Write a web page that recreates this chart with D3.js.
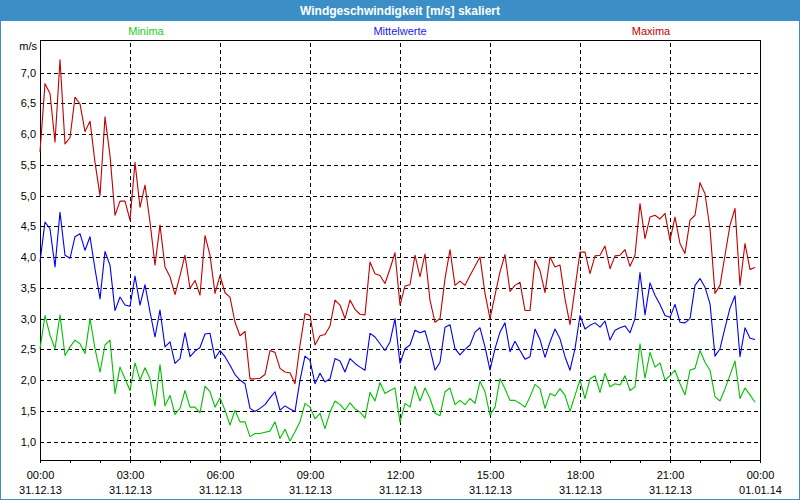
<!DOCTYPE html>
<html>
<head>
<meta charset="utf-8">
<script src="https://cdn.jsdelivr.net/npm/d3@7"></script>
<style>
  html, body { margin: 0; padding: 0; background: #ffffff; }
  svg { display: block; }
  text { font-family: Tahoma, "Liberation Sans", Arial, sans-serif; }
</style>
</head>
<body>
<svg id="chart" width="800" height="500"></svg>
<script>
// ---------------- data ----------------
const chartTitle = "Windgeschwindigkeit [m/s] skaliert";
const unitLabel = "m/s";
const seriesNames = ["Minima", "Mittelwerte", "Maxima"];
const startTime = new Date(2013, 11, 31, 0, 0);
const endTime = new Date(2014, 0, 1, 0, 0);
const stepMinutes = 10;

const minima = [
  2.51,3.05,2.73,2.51,3.06,2.40,2.54,2.65,2.59,2.43,3.00,2.51,2.13,2.57,2.65,1.78,2.21,2.02,1.83,2.28,
  2.00,2.20,2.02,1.58,2.25,1.58,1.75,1.44,1.54,1.83,1.56,1.56,1.47,1.90,1.81,1.56,1.71,1.51,1.27,1.51,
  1.32,1.32,1.08,1.13,1.13,1.15,1.17,1.32,1.05,1.20,1.01,1.16,1.32,1.62,1.56,1.37,1.46,1.21,1.48,1.66,
  1.60,1.51,1.63,1.53,1.48,1.38,1.80,1.66,1.96,1.78,1.83,1.87,1.31,1.62,1.56,1.90,1.66,1.87,1.70,1.46,
  1.42,1.81,1.87,1.60,1.67,1.60,1.70,1.62,1.98,1.81,1.43,1.56,2.02,1.86,1.67,1.67,1.62,1.56,1.73,1.93,
  1.86,1.54,1.78,1.74,1.86,1.75,1.49,1.75,2.00,1.70,2.02,2.07,1.80,2.11,1.89,1.94,1.92,2.07,1.83,1.89,
  2.59,2.03,2.45,2.21,2.28,2.00,2.07,2.16,1.94,1.76,2.16,2.19,2.48,2.29,2.16,1.73,1.66,1.86,2.08,2.31,
  1.70,1.87,1.76,1.64
];
const mittelwerte = [
  3.92,4.57,4.46,3.84,4.73,4.03,3.98,4.33,4.38,4.11,4.33,3.81,3.32,4.09,3.87,3.13,3.35,3.22,3.20,3.69,
  3.22,3.55,3.11,2.70,3.14,2.54,2.62,2.27,2.35,2.77,2.38,2.47,2.53,2.75,2.76,2.35,2.48,2.38,2.24,2.09,
  2.00,1.94,1.54,1.49,1.54,1.60,1.71,1.81,1.51,1.58,1.53,1.49,2.00,2.39,2.32,1.94,2.11,1.97,2.02,2.35,
  2.31,2.13,2.35,2.27,2.21,2.16,2.76,2.70,2.59,2.48,2.62,3.00,2.27,2.51,2.57,2.81,2.77,2.80,2.51,2.16,
  2.29,2.86,2.90,2.51,2.41,2.50,2.57,2.78,2.85,2.54,2.16,2.51,2.78,2.93,2.46,2.63,2.48,2.34,2.38,2.83,
  2.66,2.37,2.62,2.83,2.67,2.38,2.16,2.51,3.05,2.83,2.89,2.93,2.86,2.96,2.65,2.81,2.85,2.88,2.77,3.00,
  3.75,3.06,3.58,3.38,3.23,3.05,3.02,3.23,2.94,2.93,3.00,3.54,3.65,3.51,3.24,2.39,2.51,2.85,3.17,3.37,
  2.38,2.85,2.68,2.66
];
const maxima = [
  5.71,6.82,6.66,5.87,7.21,5.84,5.94,6.60,6.49,6.04,6.21,5.54,5.00,6.28,5.65,4.68,4.91,4.91,4.60,5.54,
  4.81,5.17,4.57,3.87,4.52,3.84,3.68,3.39,3.70,4.03,3.49,3.62,3.38,4.35,4.03,3.41,3.70,3.42,3.35,2.94,
  2.72,2.79,2.02,2.02,2.03,2.09,2.48,2.45,2.19,2.13,2.12,1.94,2.57,3.08,3.05,2.57,2.72,2.74,2.88,3.30,
  3.22,3.00,3.30,3.15,3.07,3.06,3.92,3.73,3.70,3.57,3.81,4.07,3.22,3.53,3.55,4.03,3.68,4.05,3.30,2.94,
  3.00,3.65,4.12,3.54,3.61,3.54,3.70,3.85,4.00,3.41,3.00,3.38,3.76,4.04,3.44,3.54,3.59,3.13,3.13,3.95,
  3.78,3.42,4.00,3.84,3.87,3.32,2.90,3.49,4.08,4.08,3.73,4.02,4.03,4.18,3.81,4.02,4.03,4.12,3.85,4.03,
  4.87,4.30,4.65,4.68,4.62,4.71,4.27,4.65,4.22,4.06,4.60,4.68,5.21,5.03,4.46,3.41,3.54,4.03,4.52,4.79,
  3.54,4.22,3.80,3.83
];
const yTicks = [1.0,1.5,2.0,2.5,3.0,3.5,4.0,4.5,5.0,5.5,6.0,6.5,7.0];
const xTickHours = [0,3,6,9,12,15,18,21,24];
const xMinorHours = d3.range(0, 25, 1);
const yDomain = [0.70, 7.53];

// ---------------- layout / style ----------------
const W = 800, H = 500;
const plot = { left: 40, right: 760, top: 40, bottom: 460 };
const colors = { Minima: "#00c000", Mittelwerte: "#0000f0", Maxima: "#c00000" };
const legendColors = { Minima: "#22cc22", Mittelwerte: "#2020f0", Maxima: "#c00000" };
const frameBlue = "#3c8fc6";

const svg = d3.select("#chart");

// title bar and frame
svg.append("rect").attr("x", 0).attr("y", 0).attr("width", W).attr("height", H).attr("fill", "#ffffff");
svg.append("rect").attr("x", 0).attr("y", 0).attr("width", W).attr("height", 21).attr("fill", frameBlue);
svg.append("rect").attr("x", 0.5).attr("y", 0.5).attr("width", W - 1).attr("height", H - 1)
  .attr("fill", "none").attr("stroke", frameBlue).attr("stroke-width", 1);
svg.append("text").attr("x", W / 2).attr("y", 15).attr("text-anchor", "middle")
  .attr("fill", "#ffffff").attr("font-weight", "bold").attr("font-size", "12px").text(chartTitle);

// scales
const x = d3.scaleTime().domain([startTime, endTime]).range([plot.left, plot.right]);
const y = d3.scaleLinear().domain(yDomain).range([plot.bottom, plot.top]);
const timeAt = i => new Date(startTime.getTime() + i * stepMinutes * 60000);
const hourTime = h => new Date(startTime.getTime() + h * 3600000);

const locale = d3.formatLocale({ decimal: ",", thousands: ".", grouping: [3], currency: ["", "€"] });
const fmt = locale.format(".1f");

// horizontal grid (dashed)
const gy = svg.append("g").attr("transform", `translate(${plot.left},0)`)
  .call(d3.axisLeft(y).tickValues(yTicks).tickSize(-(plot.right - plot.left)).tickFormat(""));
gy.select(".domain").remove();
gy.selectAll("line").attr("stroke", "#000").attr("stroke-dasharray", "4,3").attr("shape-rendering", "crispEdges");

// vertical grid (dashed) every 3 hours
const gx = svg.append("g").attr("transform", `translate(0,${plot.bottom})`)
  .call(d3.axisBottom(x).tickValues(xTickHours.slice(1, -1).map(hourTime)).tickSize(-(plot.bottom - plot.top)).tickFormat(""));
gx.select(".domain").remove();
gx.selectAll("line").attr("stroke", "#000").attr("stroke-dasharray", "4,3").attr("shape-rendering", "crispEdges");

// y labels
const yl = svg.append("g").attr("transform", `translate(${plot.left - 4},0)`)
  .call(d3.axisLeft(y).tickValues(yTicks).tickSize(0).tickFormat(fmt));
yl.select(".domain").remove();
yl.selectAll("text").attr("font-size", "11px").attr("fill", "#000").attr("x", 0)
  .attr("font-family", "Tahoma, 'Liberation Sans', Arial, sans-serif");

svg.append("text").attr("x", 37).attr("y", 50).attr("text-anchor", "end")
  .attr("font-size", "11px").attr("fill", "#000").text(unitLabel);

// x minor ticks (hourly)
const xm = svg.append("g").attr("transform", `translate(0,${plot.bottom})`)
  .call(d3.axisBottom(x).tickValues(xMinorHours.map(hourTime)).tickSize(3).tickFormat(""));
xm.select(".domain").remove();
xm.selectAll("line").attr("stroke", "#000").attr("shape-rendering", "crispEdges");

// x labels (two lines)
const xa = svg.append("g").attr("transform", `translate(0,${plot.bottom})`)
  .call(d3.axisBottom(x).tickValues(xTickHours.map(hourTime)).tickSize(3).tickPadding(4).tickFormat(""));
xa.select(".domain").remove();
xa.selectAll("line").attr("stroke", "#000").attr("shape-rendering", "crispEdges");
const timeFmt = d3.timeFormat("%H:%M"), dateFmt = d3.timeFormat("%d.%m.%y");
xa.selectAll(".tick").each(function(d) {
  const t = d3.select(this).append("text").attr("fill", "#000").attr("font-size", "11px")
    .attr("text-anchor", "middle").attr("font-family", "Tahoma, 'Liberation Sans', Arial, sans-serif");
  t.append("tspan").attr("x", 0).attr("y", 19).text(timeFmt(d));
  t.append("tspan").attr("x", 0).attr("y", 34).text(dateFmt(d));
});

// plot frame
svg.append("rect").attr("x", plot.left + 0.5).attr("y", plot.top + 0.5)
  .attr("width", plot.right - plot.left).attr("height", plot.bottom - plot.top)
  .attr("fill", "none").attr("stroke", "#000").attr("stroke-width", 1);

// lines
const line = d3.line().x((d, i) => x(timeAt(i))).y(d => y(d));
[["Minima", minima], ["Mittelwerte", mittelwerte], ["Maxima", maxima]].forEach(([name, vals]) => {
  svg.append("path").datum(vals).attr("d", line).attr("fill", "none")
    .attr("stroke", colors[name]).attr("stroke-width", 1.1).attr("stroke-linejoin", "round");
});

// legend
const legendX = { Minima: 146, Mittelwerte: 400, Maxima: 651 };
seriesNames.forEach(n => {
  svg.append("text").attr("x", legendX[n]).attr("y", 35).attr("text-anchor", "middle")
    .attr("font-size", "11px").attr("fill", legendColors[n]).text(n);
});
</script>
</body>
</html>
